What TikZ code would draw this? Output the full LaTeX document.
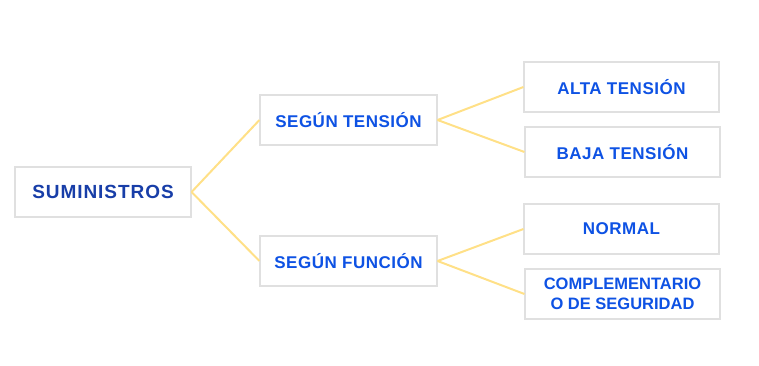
\documentclass[tikz,border=0pt]{standalone}
\usepackage{fontspec}
\setmainfont{Liberation Sans}
\newfontfamily\itemfont[LetterSpace=3]{Liberation Sans}
\newfontfamily\rootfont[LetterSpace=5]{Liberation Sans}
\usepackage{xcolor}
\usepackage{tikz}
\usetikzlibrary{arrows.meta,calc}

\definecolor{rootblue}{RGB}{24,62,168}
\definecolor{itemblue}{RGB}{14,82,228}
\definecolor{boxgray}{RGB}{224,224,224}
\definecolor{linkyellow}{RGB}{255,224,135}

\tikzset{
  box/.style={draw=boxgray,line width=1.1pt,fill=white,inner sep=0pt,
    minimum height=50pt,align=center,text=itemblue,
    font=\itemfont\bfseries\fontsize{17}{20}\selectfont},
  rootbox/.style={box,minimum width=176pt,text=rootblue,
    font=\rootfont\bfseries\fontsize{19}{22}\selectfont},
  midbox/.style={box,minimum width=177pt},
  leafbox/.style={box,minimum width=195pt},
  link/.style={linkyellow,line width=2pt}
}

\begin{document}
\begin{tikzpicture}[x=1pt,y=-1pt]
    \useasboundingbox (0,0) rectangle (759,365);
    % boxes
    \node[rootbox] (sum) at (103,192) {SUMINISTROS};
    \node[midbox] (ten) at (348.5,120) {SEGÚN TENSIÓN};
    \node[midbox] (fun) at (348.5,261) {SEGÚN FUNCIÓN};
    \node[leafbox] (alta) at (621.5,87) {ALTA TENSIÓN};
    \node[leafbox] (baja) at (622.5,152) {BAJA TENSIÓN};
    \node[leafbox] (norm) at (621.5,229) {NORMAL};
    \node[leafbox,font=\bfseries\fontsize{16.5}{20}\selectfont] (comp) at (622.5,294)
      {COMPLEMENTARIO\\O DE SEGURIDAD};
    % links
    \draw[link] (sum.east) -- (ten.west);
    \draw[link] (sum.east) -- (fun.west);
    \draw[link] (ten.east) -- (alta.west);
    \draw[link] (ten.east) -- (baja.west);
    \draw[link] (fun.east) -- (norm.west);
    \draw[link] (fun.east) -- (comp.west);
  \end{tikzpicture}
\end{document}
